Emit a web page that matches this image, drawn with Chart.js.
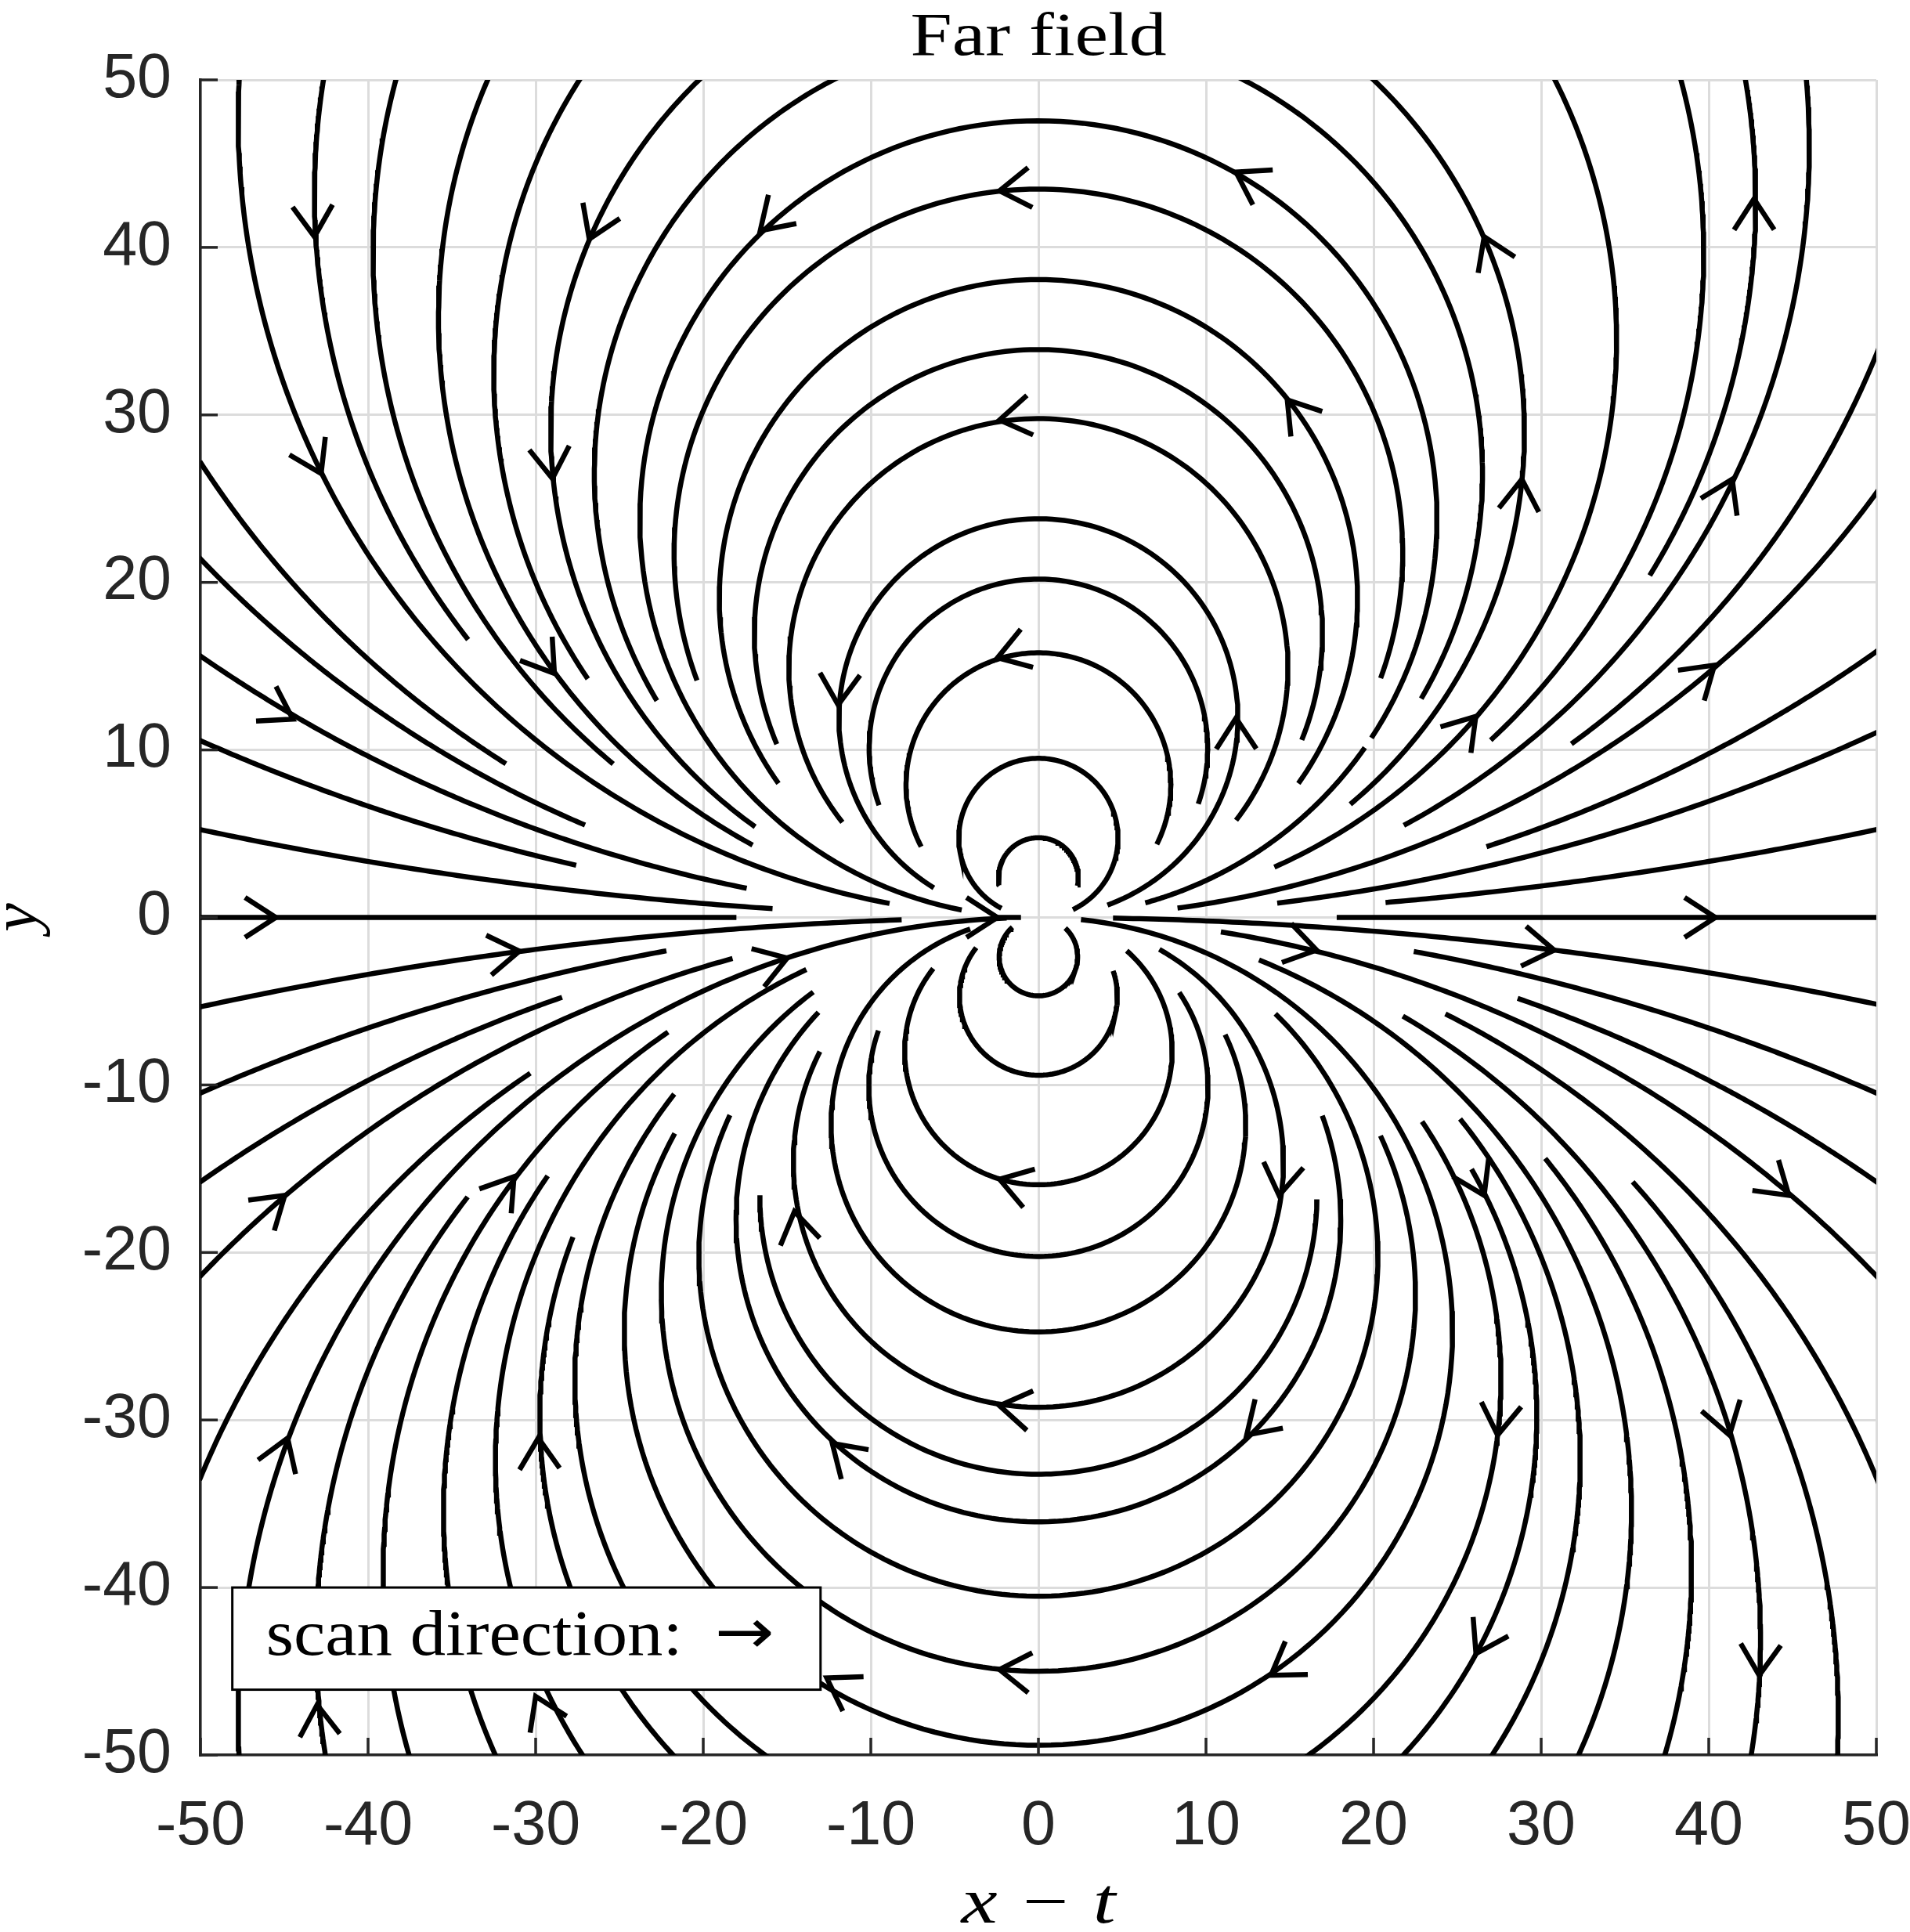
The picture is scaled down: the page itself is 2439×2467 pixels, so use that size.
<!DOCTYPE html>
<html>
<head>
<meta charset="utf-8">
<title>Far field</title>
<script src="https://cdn.jsdelivr.net/npm/chart.js@4.4.1/dist/chart.umd.min.js"></script>
<style>
  html, body { margin: 0; padding: 0; background: #ffffff; }
  #wrap { width: 2439px; height: 2467px; }
</style>
</head>
<body>
<div id="wrap"><canvas id="farField" width="2439" height="2467"></canvas></div>
<script>
"use strict";

// Tick values
const xTicks = [-50, -40, -30, -20, -10, 0, 10, 20, 30, 40, 50];
const yTicks = [-50, -40, -30, -20, -10, 0, 10, 20, 30, 40, 50];

// Streamline pieces.
// Every field line is a circle through the origin with its centre at (0, c).
// Entry: [c, x1, y1, x2, y2]  -> the piece runs between the two end points.
const loopsAbove = [
    [23.78, 19.84, 10.70, -5.56, 0.54],
    [23.78, 6.81, 0.93, 19.60, 10.20],
    [21.74, 20.36, 14.24, -20.50, 14.24],
    [19.04, 15.53, 8.01, -15.69, 8.09],
    [16.95, 15.69, 10.58, -15.84, 10.50],
    [14.89, 11.71, 5.76, -11.87, 5.76],
    [11.90, 4.31, 0.77, -6.57, 1.86],
    [10.10, 9.53, 6.77, -9.61, 6.77],
    [7.90, 7.04, 4.35, -7.20, 4.35],
    [4.75, 2.37, 0.54, -2.52, 0.62],
    [2.38, 2.34, 1.90, -2.34, 1.90]
];
const topEdgeRight = [
    [26.5, 12.2, 50, 22.85, 13.07],
    [29.0, 20.09, 50, 18.64, 6.77],
    [34.5, 30.8, 50, 14.2, 3.03],
    [39.7, 38.3, 50, 26.9, 10.55],
    [42.8, 42.2, 50, 36.4, 20.37],
    [46.0, 45.8, 50, 21.9, 5.52]
];
const rightEdgeAbove = [
    [54.0, 50, 33.56, 31.9, 10.39],
    [62.0, 50, 25.36, 9.22, 0.62],
    [86.7, 50, 15.86, 27.08, 4.28],
    [118.8, 50, 11.03, 15.45, 0.93],
    [241, 50, 5.24, 21.6, 0.93]
];
const topEdgeLeft = [
    [26.5, -12.3, 50, -23.0, 13.07],
    [29.1, -20.3, 50, -17.24, 5.52],
    [32.5, -27.3, 50, -26.9, 14.25],
    [35.8, -32.9, 50, -17.16, 4.35],
    [39.7, -38.4, 50, -25.66, 9.27],
    [43.2, -42.7, 50, -34.2, 16.67],
    [47.75, -47.7, 50, -9.38, 0.88]
];
const leftEdgeAbove = [
    [59.6, -50, 27.2, -32.1, 9.27],
    [69.1, -50, 21.4, -27.27, 5.56],
    [87.9, -50, 15.6, -18.1, 1.81],
    [123.7, -50, 10.55, -27.9, 3.15],
    [241, -50, 5.24, -17.3, 0.57]
];
const loopsBelow = [
    [-2.34, 1.59, -0.63, -1.67, -0.63],
    [-4.71, 4.47, -3.20, -3.90, -1.90],
    [-7.98, 5.09, -1.92, -6.42, -3.12],
    [-10.12, 8.29, -4.42, -9.69, -6.86],
    [-12.37, 10.93, -6.86, -4.08, -0.69],
    [-14.62, 7.12, -1.88, -13.19, -8.10],
    [-16.62, 16.54, -16.75, -16.78, -16.75],
    [-18.04, 16.85, -11.77, -13.19, -5.69],
    [-20.26, 13.82, -5.62, -18.49, -11.85],
    [-22.50, 20.36, -13.00, -13.43, -4.45],
    [-24.71, 0.97, -0.05, -21.90, -13.01]
];
const bottomEdgeRight = [
    [-27.6, 16.13, -50, 22.85, -12.16],
    [-29.74, 21.77, -50, 25.8, -15.0],
    [-32.33, 27.08, -50, 25.1, -12.0],
    [-35.39, 32.23, -50, 12.96, -2.5],
    [-38.97, 37.38, -50, 30.14, -14.34],
    [-43.09, 42.53, -50, 21.6, -5.85],
    [-47.73, 47.68, -50, 35.12, -15.63]
];
const rightEdgeBelow = [
    [-244, 50, -5.17, 5.48, -0.05],
    [-124.5, 50, -10.48, 21.5, -1.95],
    [-87.1, 50, -15.79, 27.72, -4.68],
    [-69.1, 50, -21.42, 10.47, -0.83],
    [-54.1, 50, -33.5, 24.0, -5.69]
];
const bottomEdgeLeft = [
    [-47.75, -47.7, -50, -2.52, -0.05],
    [-43.1, -42.56, -50, -34.19, -16.75],
    [-39.1, -37.57, -50, -22.15, -6.86],
    [-35.5, -32.42, -50, -29.36, -15.47],
    [-32.4, -27.27, -50, -13.9, -3.12],
    [-29.75, -21.8, -50, -27.9, -19.17],
    [-27.66, -16.3, -50, -21.84, -10.6]
];
const leftEdgeBelow = [
    [-237, -50, -5.33, -8.13, -0.14],
    [-124.5, -50, -10.48, -21.7, -1.95],
    [-87.1, -50, -15.79, -27.9, -4.68],
    [-69.1, -50, -21.42, -18.0, -2.42],
    [-54.1, -50, -33.5, -30.5, -9.35]
];

// Pieces lying on the x axis: [xStart, xEnd]
const axisPieces = [[-50, -18.02], [-2.45, -1.04], [17.8, 50]];

// Arrow heads (tip positions)
const arrowTips = [
    [-2.32, 43.38], [-2.32, 29.7], [-2.44, 15.5],
    [11.79, 44.5], [-16.6, 41.0], [14.85, 30.9], [11.79, 11.9], [-11.95, 12.69],
    [26.6, 40.64], [28.85, 26.16], [-26.8, 40.5], [-29.0, 26.2],
    [26.1, 12.0], [-28.88, 14.57], [42.7, 42.9], [-43.2, 40.64],
    [41.4, 26.16], [-42.8, 26.5], [40.34, 15.06], [-44.49, 11.84],
    [-45.5, 0], [40.4, 0], [-2.45, 0],
    [-30.97, -2.01], [-14.99, -2.42], [-44.8, -31.08], [-44.97, -16.59], [-31.29, -15.47],
    [-14.56, -17.56], [-29.84, -31.08], [-12.3, -31.4],
    [-2.32, -15.63], [-2.32, -29.15], [-2.32, -44.9],
    [-43.04, -47.0], [-30.0, -46.5], [-12.63, -45.4],
    [16.6, -1.95], [30.78, -1.95], [44.78, -16.59],
    [14.36, -16.59], [26.6, -16.59], [12.43, -30.9], [27.4, -30.9], [41.24, -30.9],
    [13.88, -45.24], [26.11, -43.95], [43.01, -45.24]
];

const titleText = "Far field";
const xLabelText = "x \u2212 t";
const yLabelText = "y";
const noteText = "scan direction:";
const noteArrow = "\u2192";

const LINE_W = 6.5;
const INK = "#000000";
const AXIS_INK = "#262626";

// points along one circular field line between two end points
function arcPoints(piece) {
    const c = piece[0];
    let t1 = Math.atan2(piece[2], piece[1]);
    let t2 = Math.atan2(piece[4], piece[3]);
    const onFrame = (px, py) => Math.abs(px) >= 49.5 || Math.abs(py) >= 49.5;
    const ext = 3 * Math.PI / 180 * Math.sign(t1 - t2);
    if (onFrame(piece[1], piece[2])) t1 += ext;   // run a bit past the frame, the chart clips it
    if (onFrame(piece[3], piece[4])) t2 -= ext;
    const pts = [];
    const n = 180;
    for (let i = 0; i <= n; i++) {
        const t = t1 + (t2 - t1) * i / n;
        const r = 2 * c * Math.sin(t);
        pts.push({ x: r * Math.cos(t), y: r * Math.sin(t) });
    }
    return pts;
}

function lineSet(points) {
    return {
        data: points,
        showLine: true,
        borderColor: INK,
        borderWidth: LINE_W,
        borderCapStyle: "butt",
        pointRadius: 0,
        pointHoverRadius: 0,
        fill: false,
        tension: 0,
        clip: 0
    };
}

const datasets = [];
[loopsAbove, topEdgeRight, rightEdgeAbove, topEdgeLeft, leftEdgeAbove,
 loopsBelow, bottomEdgeRight, rightEdgeBelow, bottomEdgeLeft, leftEdgeBelow].forEach(group => {
    group.forEach(piece => datasets.push(lineSet(arcPoints(piece))));
});
axisPieces.forEach(p => datasets.push(lineSet([{ x: p[0], y: 0 }, { x: p[1], y: 0 }])));

// Arrow heads, ticks inside the box, title, axis labels and the note box
const decorations = {
    id: "decorations",
    afterDatasetsDraw(chart) {
        const ctx = chart.ctx;
        const xs = chart.scales.x, ys = chart.scales.y;
        const area = chart.chartArea;

        ctx.save();
        ctx.beginPath();
        ctx.rect(area.left, area.top, area.right - area.left, area.bottom - area.top);
        ctx.clip();
        ctx.strokeStyle = INK;
        ctx.lineWidth = LINE_W;
        ctx.lineCap = "butt";
        ctx.lineJoin = "miter";
        const armLen = 47, spread = 33 * Math.PI / 180;
        arrowTips.forEach(tip => {
            const ax = tip[0], ay = tip[1];
            const px = xs.getPixelForValue(ax), py = ys.getPixelForValue(ay);
            // dipole field direction (x^2 - y^2, 2xy); screen y points down
            const dx = ax * ax - ay * ay, dy = -(2 * ax * ay);
            const back = Math.atan2(-dy, -dx);
            ctx.beginPath();
            ctx.moveTo(px + armLen * Math.cos(back + spread), py + armLen * Math.sin(back + spread));
            ctx.lineTo(px, py);
            ctx.lineTo(px + armLen * Math.cos(back - spread), py + armLen * Math.sin(back - spread));
            ctx.stroke();
        });
        ctx.restore();

        // inward tick marks
        ctx.save();
        ctx.strokeStyle = AXIS_INK;
        ctx.lineWidth = 3.5;
        xTicks.forEach(v => {
            const px = xs.getPixelForValue(v);
            ctx.beginPath();
            ctx.moveTo(px, area.bottom);
            ctx.lineTo(px, area.bottom - 22);
            ctx.stroke();
        });
        yTicks.forEach(v => {
            const py = ys.getPixelForValue(v);
            ctx.beginPath();
            ctx.moveTo(area.left, py);
            ctx.lineTo(area.left + 22, py);
            ctx.stroke();
        });
        ctx.restore();
    },
    afterDraw(chart) {
        const ctx = chart.ctx;
        const xs = chart.scales.x, ys = chart.scales.y;
        const area = chart.chartArea;
        const midX = (area.left + area.right) / 2;

        function fitText(text, x, y, width, align) {
            const w = ctx.measureText(text).width;
            ctx.save();
            ctx.translate(x, y);
            ctx.scale(width / w, 1);
            ctx.textAlign = align;
            ctx.fillText(text, 0, 0);
            ctx.restore();
        }

        ctx.save();
        ctx.fillStyle = INK;
        ctx.textBaseline = "alphabetic";

        ctx.font = '78px "Liberation Serif", "DejaVu Serif", serif';
        fitText(titleText, midX, 70, 327, "center");

        ctx.font = 'italic 82px "Liberation Serif", "DejaVu Serif", serif';
        fitText(xLabelText, midX, 2455, 197, "center");

        ctx.save();
        ctx.translate(46, (area.top + area.bottom) / 2);
        ctx.rotate(-Math.PI / 2);
        ctx.textAlign = "center";
        ctx.fillText(yLabelText, 0, 0);
        ctx.restore();

        // note box
        const bx1 = xs.getPixelForValue(-48.1), bx2 = xs.getPixelForValue(-13.0);
        const by1 = ys.getPixelForValue(-40.0), by2 = ys.getPixelForValue(-46.1);
        ctx.fillStyle = "#ffffff";
        ctx.fillRect(bx1, by1, bx2 - bx1, by2 - by1);
        ctx.strokeStyle = INK;
        ctx.lineWidth = 3;
        ctx.strokeRect(bx1, by1, bx2 - bx1, by2 - by1);
        ctx.fillStyle = INK;
        ctx.font = '82px "Liberation Serif", "DejaVu Serif", serif';
        fitText(noteText, bx1 + 43, by1 + 86, 532, "left");
        ctx.font = '80px "DejaVu Sans", sans-serif';
        fitText(noteArrow, bx1 + 616, by1 + 84, 76, "left");
        ctx.restore();
    }
};

function axisOptions(fitFn, pad) {
    return {
        type: "linear",
        min: -50,
        max: 50,
        afterFit: fitFn,
        ticks: {
            stepSize: 10,
            autoSkip: false,
            maxRotation: 0,
            color: AXIS_INK,
            padding: pad,
            font: { family: '"Liberation Sans", Arial, sans-serif', size: 79 }
        },
        grid: {
            color: "#dcdcdc",
            lineWidth: 3,
            drawTicks: false
        },
        border: { display: true, color: AXIS_INK, width: 3.5 }
    };
}

new Chart(document.getElementById("farField").getContext("2d"), {
    type: "scatter",
    data: { datasets: datasets },
    options: {
        responsive: false,
        devicePixelRatio: 1,
        animation: false,
        events: [],
        layout: { autoPadding: false, padding: { left: 0, right: 43, top: 102, bottom: 0 } },
        plugins: {
            legend: { display: false },
            title: { display: false },
            tooltip: { enabled: false }
        },
        scales: {
            // fixed box sizes so the plot frame sits where the picture has it
            x: Object.assign(axisOptions(s => { s.height = 226; s.paddingLeft = 0; s.paddingRight = 0; }, 45), { position: "bottom" }),
            y: Object.assign(axisOptions(s => { s.width = 256; s.paddingTop = 0; s.paddingBottom = 0; }, 37), { position: "left" })
        }
    },
    plugins: [decorations]
});
</script>
</body>
</html>
